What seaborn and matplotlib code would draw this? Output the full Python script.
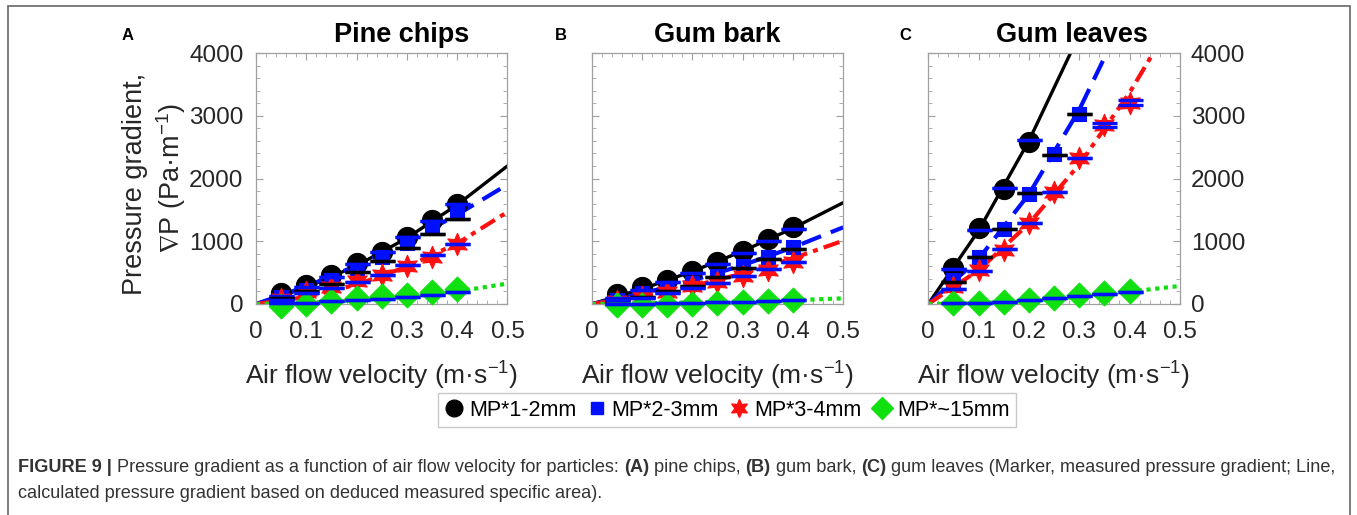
import numpy as np
import pandas as pd
import matplotlib
matplotlib.use("Agg")
import matplotlib.pyplot as plt
import seaborn as sns
from matplotlib.lines import Line2D
from matplotlib.patches import Rectangle
from matplotlib.ticker import MultipleLocator

# velocities of the measured points and of the calculated lines
vel = [0.05, 0.10, 0.15, 0.20, 0.25, 0.30, 0.35, 0.40]
vel_line = [0.0, 0.1, 0.2, 0.3, 0.4, 0.5]

# (A) pine chips - markers, bar positions, calculated lines
pine_12 = [170, 308, 462, 648, 834, 1062, 1339, 1594]
pine_12_bar = [127, 266, 435, 632, 834, 1062, 1323, 1594]
pine_23 = [117, 223, 382, 542, 744, 967, 1232, 1445]
pine_23_bar = [90, 200, 320, 505, 685, 887, 1115, 1349]
pine_34 = [80, 190, 270, 365, 463, 610, 756, 950]
pine_34_bar = [70, 170, 250, 350, 470, 616, 776, 956]
pine_15 = [-30, 5, 45, 90, 120, 150, 195, 235]
pine_15_bar = [10, 21, 43, 64, 85, 106, 138, 191]
pine_line_12 = [0, 261, 611, 1051, 1581, 2200]
pine_line_23 = [0, 280, 611, 991, 1423, 1904]
pine_line_34 = [0, 111, 309, 594, 965, 1467]
pine_line_15 = [0, 22, 60, 115, 200, 325]

# (B) gum bark
bark_12 = [154, 266, 382, 526, 675, 850, 1031, 1222]
bark_12_bar = [101, 223, 345, 489, 637, 818, 1004, 1190]
bark_23 = [64, 170, 250, 329, 446, 606, 754, 914]
bark_23_bar = [64, 117, 212, 287, 435, 568, 712, 876]
bark_34 = [48, 117, 196, 287, 356, 446, 542, 675]
bark_34_bar = [70, 101, 170, 250, 340, 446, 558, 669]
bark_15 = [-15, -20, -10, 0, 10, 25, 40, 58]
bark_15_bar = [0, 5, 12, 20, 28, 38, 48, 58]
bark_line_12 = [0, 238, 519, 842, 1207, 1615]
bark_line_23 = [0, 167, 374, 618, 901, 1222]
bark_line_34 = [0, 122, 284, 486, 728, 1009]
bark_line_15 = [0, 12, 25, 40, 60, 90]

# (C) gum leaves
leaf_12 = [568, 1215, 1831, 2585]
leaf_12_bar = [563, 1178, 1842, 2611]
leaf_23 = [382, 754, 1194, 1752, 2383, 3025]
leaf_23_bar = [345, 745, 1190, 1763, 2375, 3020]
leaf_34 = [265, 541, 860, 1285, 1789, 2320, 2850, 3206]
leaf_34_bar = [234, 525, 870, 1290, 1790, 2330, 2850, 3206]
leaf_34_err = [0, 0, 0, 0, 0, 0, 30, 40]
leaf_15 = [10, 10, 30, 60, 100, 140, 170, 212]
leaf_15_bar = [10, 10, 37, 64, 90, 127, 159, 196]
leaf_line_12 = [0, 1170, 2600, 4290, 6240, 8450]
leaf_line_23 = [0, 718, 1750, 3094, 4751, 6721]
leaf_line_34 = [0, 539, 1280, 2222, 3366, 4711]
leaf_line_15 = [0, 12, 50, 115, 196, 287]

titles = ["Pine chips", "Gum bark", "Gum leaves"]
letters = ["A", "B", "C"]
labels = ["MP*1-2mm", "MP*2-3mm", "MP*3-4mm", "MP*~15mm"]
x_ticks = [0, 0.1, 0.2, 0.3, 0.4, 0.5]
x_tick_labels = ["0", "0.1", "0.2", "0.3", "0.4", "0.5"]
y_ticks = [0, 1000, 2000, 3000, 4000]

panels = [
    [(pine_12, pine_12_bar, None, pine_line_12), (pine_23, pine_23_bar, None, pine_line_23),
     (pine_34, pine_34_bar, None, pine_line_34), (pine_15, pine_15_bar, None, pine_line_15)],
    [(bark_12, bark_12_bar, None, bark_line_12), (bark_23, bark_23_bar, None, bark_line_23),
     (bark_34, bark_34_bar, None, bark_line_34), (bark_15, bark_15_bar, None, bark_line_15)],
    [(leaf_12, leaf_12_bar, None, leaf_line_12), (leaf_23, leaf_23_bar, None, leaf_line_23),
     (leaf_34, leaf_34_bar, leaf_34_err, leaf_line_34), (leaf_15, leaf_15_bar, None, leaf_line_15)],
]

# styles per series
colors = ["black", "#0010ff", "#ff1010", "#10e010"]
markers = ["o", "s", (6, 1, 0), "D"]
sizes = [210, 110, 260, 160]
bar_colors = ["#0010ff", "black", "#0010ff", "#0010ff"]
line_styles = ["-", (0, (5, 2.5)), (0, (4, 1.5, 1.2, 1.5)), (0, (1, 1.1))]
line_widths = [2.4, 3.0, 3.0, 3.0]

sns.set_theme(style="ticks")
plt.rcParams["font.family"] = ["Liberation Sans", "DejaVu Sans"]
plt.rcParams["mathtext.fontset"] = "custom"
plt.rcParams["mathtext.rm"] = "Liberation Sans"
plt.rcParams["mathtext.fallback"] = "stixsans"

W, H = 1357, 515
fig = plt.figure(figsize=(W / 100, H / 100), dpi=100)

txt_col = "#262626"
ax_col = "#a0a0a0"
lefts = [256, 591.7, 928.3]
title_x = [0.58, 0.50, 0.57]
letter_x = [128, 561, 905]

for i, series in enumerate(panels):
    ax = fig.add_axes([lefts[i] / W, (H - 304) / H, 251.5 / W, 251 / H])
    for j, (pts, bars, err, line) in enumerate(series):
        sns.lineplot(x=vel_line, y=line, ax=ax, color=colors[j], linestyle=line_styles[j],
                     linewidth=line_widths[j], zorder=2)
    for j, (pts, bars, err, line) in enumerate(series):
        n = len(pts)
        sns.scatterplot(x=vel[:n], y=pts, ax=ax, color=colors[j], marker=markers[j], s=sizes[j],
                        edgecolor=colors[j], linewidth=0.8, zorder=3, clip_on=False)
    for j, (pts, bars, err, line) in enumerate(series):
        n = len(pts)
        yerr = err if err is not None else [0] * n
        ax.errorbar(vel[:n], bars, yerr=yerr, fmt="none", ecolor=bar_colors[j], capsize=9,
                    capthick=2.4, elinewidth=0.6, zorder=4, clip_on=False)

    ax.set_xlim(0, 0.5)
    ax.set_ylim(0, 4000)
    ax.set_xticks(x_ticks)
    ax.set_xticklabels(x_tick_labels)
    ax.set_yticks(y_ticks)
    ax.xaxis.set_minor_locator(MultipleLocator(0.02))
    ax.yaxis.set_minor_locator(MultipleLocator(200))
    ax.tick_params(which="both", direction="in", top=True, right=True, color=ax_col,
                   labelsize=17.5, labelcolor=txt_col)
    ax.tick_params(which="major", length=5, width=0.8)
    ax.tick_params(which="minor", length=3, width=0.6)
    ax.tick_params(axis="x", pad=12)
    ax.tick_params(axis="y", pad=9)
    if i == 0:
        ax.tick_params(labelleft=True, labelright=False)
    elif i == 1:
        ax.tick_params(labelleft=False, labelright=False)
    else:
        ax.tick_params(axis="y", labelleft=False, labelright=True, pad=8)
    for sp in ax.spines.values():
        sp.set_color(ax_col)
        sp.set_linewidth(0.9)
    ax.set_xlabel("Air flow velocity (m·s$^{-1}$)", fontsize=19, color=txt_col)
    ax.xaxis.set_label_coords(0.5, -0.28)
    ax.xaxis.label.set_va("center")
    ax.set_ylabel("")
    ax.text(title_x[i], 1.07, titles[i], transform=ax.transAxes, ha="center", va="center",
            fontsize=19.5, fontweight="bold", color="black")
    fig.text(letter_x[i] / W, (H - 35) / H, letters[i], ha="center", va="center",
             fontsize=12, fontweight="bold", color="black")

# y axis label (two lines)
fig.text(135 / W, (H - 184) / H, "Pressure gradient,", rotation=90, ha="center", va="center",
         fontsize=19.5, color=txt_col)
fig.text(171 / W, (H - 178) / H, r"$\nabla$P (Pa·m$^{-1}$)", rotation=90, ha="center", va="center",
         fontsize=19.5, color=txt_col)

# legend
handles = [Line2D([], [], linestyle="none", marker=markers[k], color=colors[k],
                  markersize=[12, 9, 13, 11][k]) for k in range(4)]
leg = fig.legend(handles, labels, ncol=4, loc="center", bbox_to_anchor=(727 / W, (H - 410) / H),
                 frameon=True, fancybox=False, fontsize=15.5, handlelength=0.9, handletextpad=0.25,
                 columnspacing=0.5, borderpad=0.3, borderaxespad=0)
leg.get_frame().set_edgecolor("#bbbbbb")
leg.get_frame().set_linewidth(1.0)
for t in leg.get_texts():
    t.set_color("black")

# outer frame
fig.patches.append(Rectangle((8 / W, -0.05), (1350 - 8) / W, 1.05 - 6 / H, transform=fig.transFigure,
                             fill=False, edgecolor="#666666", linewidth=1.2))

# caption with bold parts
line1 = [("FIGURE 9 |", True), (" Pressure gradient as a function of air flow velocity for particles: ", False),
         ("(A)", True), (" pine chips, ", False), ("(B)", True), (" gum bark, ", False), ("(C)", True),
         (" gum leaves (Marker, measured pressure gradient; Line,", False)]
line2 = [("calculated pressure gradient based on deduced measured specific area).", False)]

renderer = fig.canvas.get_renderer()


def draw_line(segs, y, size):
    x = 18
    for s, b in segs:
        t = fig.text(x / W, y, s, ha="left", va="center", fontsize=size, color="#333333",
                     fontweight="bold" if b else "normal")
        x += t.get_window_extent(renderer).width
    return x - 18


probe = [fig.text(0, 0, s, fontsize=11, fontweight="bold" if b else "normal") for s, b in line1]
total = sum(p.get_window_extent(renderer).width for p in probe)
for p in probe:
    p.remove()
cap_size = 11 * 1320 / total

draw_line(line1, (H - 467) / H, cap_size)
draw_line(line2, (H - 494) / H, cap_size)

fig.savefig("out.png", dpi=100)
